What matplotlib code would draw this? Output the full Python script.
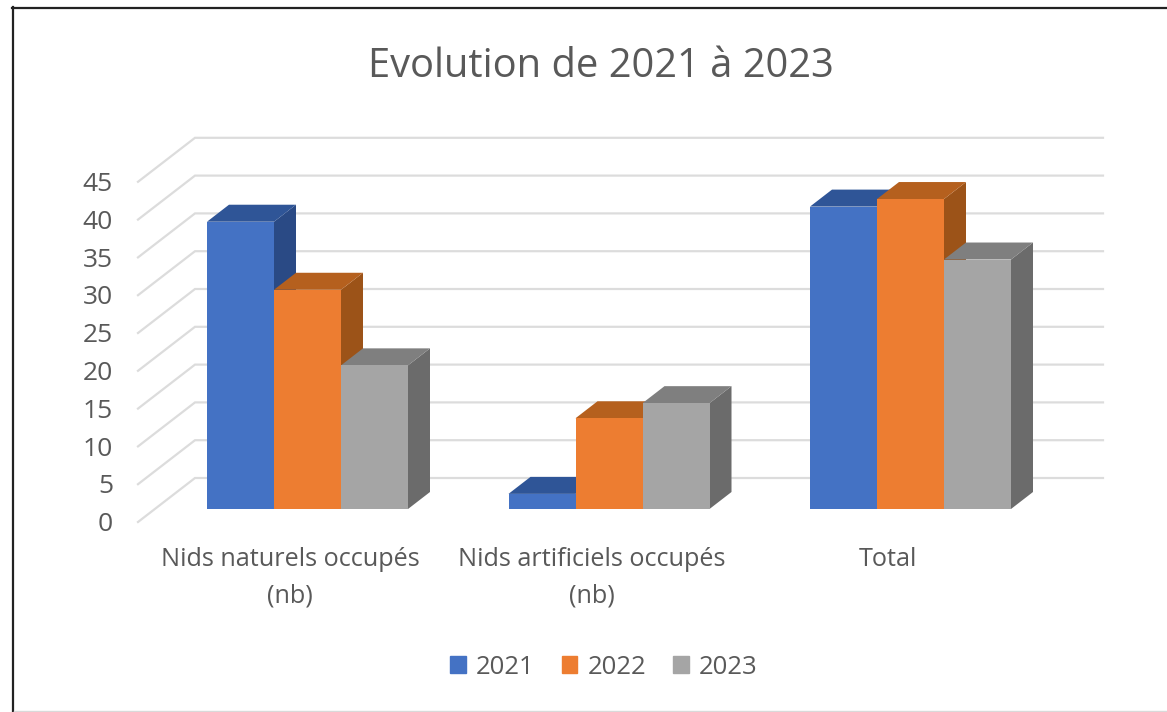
import matplotlib
matplotlib.use("Agg")
import matplotlib.pyplot as plt
from matplotlib.lines import Line2D

title = "Evolution de 2021 à 2023"
categories = ["Nids naturels occupés\n(nb)", "Nids artificiels occupés\n(nb)", "Total"]
years = ["2021", "2022", "2023"]
values_2021 = [38, 2, 40]
values_2022 = [29, 12, 41]
values_2023 = [19, 14, 33]
yticks = [0, 5, 10, 15, 20, 25, 30, 35, 40, 45]

front_colors = ["#4472C4", "#ED7D31", "#A5A5A5"]
side_colors = ["#2A4A85", "#9C5318", "#6B6B6B"]
top_colors = ["#2F5597", "#B5601E", "#7F7F7F"]
text_color = "#595959"
grid_color = "#DCDCDC"

plt.rcParams["font.family"] = ["Open Sans", "DejaVu Sans"]

W = 1167
H = 712
GROUP_PX = 301.5   # pixels between two groups
UNIT_PX = 7.56     # pixels for one unit on the value axis
CENTER_PX = 307.5  # centre of first group
BASE_PX = 509      # bottom of the bars


def px_x(p):
    return (p - CENTER_PX) / GROUP_PX


def px_y(p):
    return (BASE_PX - p) / UNIT_PX


fig = plt.figure(figsize=(W / 100, H / 100), dpi=100)
ax = fig.add_axes([0, 0, 1, 1])
ax.set_xlim(px_x(0), px_x(W))
ax.set_ylim(px_y(H), px_y(0))
ax.axis("off")

# walls, the grid goes from the front edge to the back and then along the back
front_x = px_x(138)
back_x = px_x(195)
end_x = px_x(1103)
front_dy = px_y(522)
back_dy = px_y(478)
for v in yticks:
    ax.plot([front_x, back_x, end_x], [v + front_dy, v + back_dy, v + back_dy],
            color=grid_color, lw=1.6, solid_joinstyle="miter", zorder=1)
    ax.text(px_x(113), v + front_dy + 0.03, str(v), ha="right", va="center_baseline",
            fontsize=19, color=text_color)

# bars with a fake depth
bar_w = 67 / GROUP_PX
depth_x = 22 / GROUP_PX
depth_y = 17 / UNIT_PX
series = [values_2021, values_2022, values_2023]
z = 2
for g in range(len(categories)):
    for s in range(3):
        left = g + (s - 1.5) * bar_w
        right = left + bar_w
        v = series[s][g]
        ax.fill([right, right + depth_x, right + depth_x, right],
                [0, depth_y, v + depth_y, v], color=side_colors[s], lw=0, zorder=z)
        ax.fill([left, left + depth_x, right + depth_x, right],
                [v, v + depth_y, v + depth_y, v], color=top_colors[s], lw=0, zorder=z)
        ax.bar(left, v, bar_w, align="edge", color=front_colors[s], lw=0, zorder=z + 0.5)
        z += 1

label_px = [290, 591.5, 888]
for g in range(len(categories)):
    ax.text(px_x(label_px[g]), px_y(547.5), categories[g], ha="center", va="top",
            fontsize=18.2, color=text_color, linespacing=1.6)

ax.text(px_x(600.5), px_y(67), title, ha="center", va="center", fontsize=28.7, color=text_color)

handles = [plt.Rectangle((0, 0), 1, 1, color=c) for c in front_colors]
ax.legend(handles, years, loc="center", bbox_to_anchor=(604 / W, 1 - 667 / H),
          bbox_transform=fig.transFigure, ncol=3, frameon=False, fontsize=18.5,
          labelcolor=text_color, handlelength=0.6, handleheight=0.6,
          handletextpad=0.4, columnspacing=1.06)

# frame of the screenshot
fig.add_artist(Line2D([12.5 / W, 12.5 / W], [0, 1 - 7 / H], color="#222222", lw=1.6))
fig.add_artist(Line2D([12 / W, 1], [1 - 7.5 / H, 1 - 7.5 / H], color="#222222", lw=1.6))
fig.add_artist(Line2D([14 / W, 1], [1 - 711 / H, 1 - 711 / H], color="#D9D9D9", lw=1))

fig.savefig("out.png", dpi=100)
